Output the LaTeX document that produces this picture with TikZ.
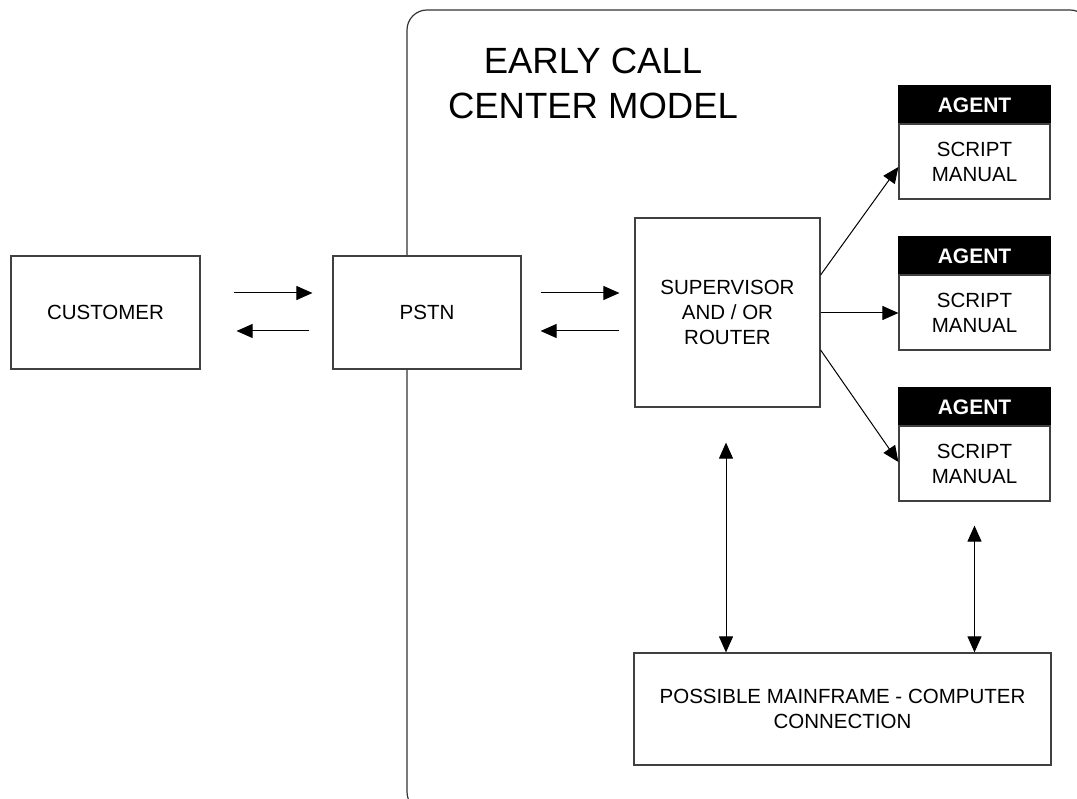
\documentclass[tikz,border=0pt]{standalone}
\usepackage{fontspec}
\setmainfont{Liberation Sans}
\usetikzlibrary{arrows.meta}
\begin{document}
\begin{tikzpicture}[x=1pt,y=-1pt,
 box/.style={draw=black!75, fill=white, line width=1.2pt, inner sep=0pt, align=center, font=\fontsize{20.5}{25}\selectfont},
 hdr/.style={fill=black, draw=black, line width=1.2pt, inner sep=0pt, text=white, minimum width=151pt, minimum height=38pt, font=\fontsize{21}{25}\selectfont\bfseries},
 body/.style={box, minimum width=151pt, minimum height=75pt},
 arr/.style={-{Triangle[length=16pt,width=14pt]}, line width=1pt},
 darr/.style={{Triangle[length=16pt,width=14pt]}-{Triangle[length=16pt,width=14pt]}, line width=1pt}]
\useasboundingbox (0,0) rectangle (1077,799);
\clip (0,0) rectangle (1077,799);
\fill[white] (0,0) rectangle (1077,799);
\draw[draw=black!80, line width=1.2pt, rounded corners=20pt] (407,10) rectangle (1090,812);
\node[font=\fontsize{36.5}{45}\selectfont, align=center] (title) at (593,83) {EARLY CALL\\CENTER MODEL};
\node[box, minimum width=189pt, minimum height=113pt] (cust) at (105.5,312.5) {CUSTOMER};
\node[box, minimum width=188pt, minimum height=113pt] (pstn) at (427,312.5) {PSTN};
\node[box, minimum width=185pt, minimum height=189pt] (sup) at (727.5,312.5) {SUPERVISOR\\AND / OR\\ROUTER};
\node[hdr] (h1) at (974.5,105) {AGENT};
\node[body] (a1) at (974.5,161.5) {SCRIPT\\MANUAL};
\node[hdr] (h2) at (974.5,256) {AGENT};
\node[body] (a2) at (974.5,312.5) {SCRIPT\\MANUAL};
\node[hdr] (h3) at (974.5,407) {AGENT};
\node[body] (a3) at (974.5,463.5) {SCRIPT\\MANUAL};
\node[box, minimum width=417pt, minimum height=112pt] (main) at (842.5,709) {POSSIBLE MAINFRAME - COMPUTER\\CONNECTION};
% customer <-> pstn
\draw[arr, shorten <=33pt, shorten >=20pt] (cust.east |- 0,293) -- (pstn.west |- 0,293);
\draw[arr, shorten <=23pt, shorten >=36pt] (pstn.west |- 0,331) -- (cust.east |- 0,331);
% pstn <-> supervisor
\draw[arr, shorten <=19pt, shorten >=15pt] (pstn.east |- 0,293) -- (sup.west |- 0,293);
\draw[arr, shorten <=15pt, shorten >=19pt] (sup.west |- 0,331) -- (pstn.east |- 0,331);
% supervisor -> agents
\draw[arr] (sup.east |- 0,275) -- (a1.west |- 0,167);
\draw[arr] (sup.east |- 0,313) -- (a2.west |- 0,313);
\draw[arr] (sup.east |- 0,350) -- (a3.west |- 0,462);
% to mainframe
\draw[darr, shorten <=35pt] (sup.south -| 726,0) -- (main.north -| 726,0);
\draw[darr, shorten <=24pt] (a3.south) -- (main.north -| a3.south);
\end{tikzpicture}
\end{document}
